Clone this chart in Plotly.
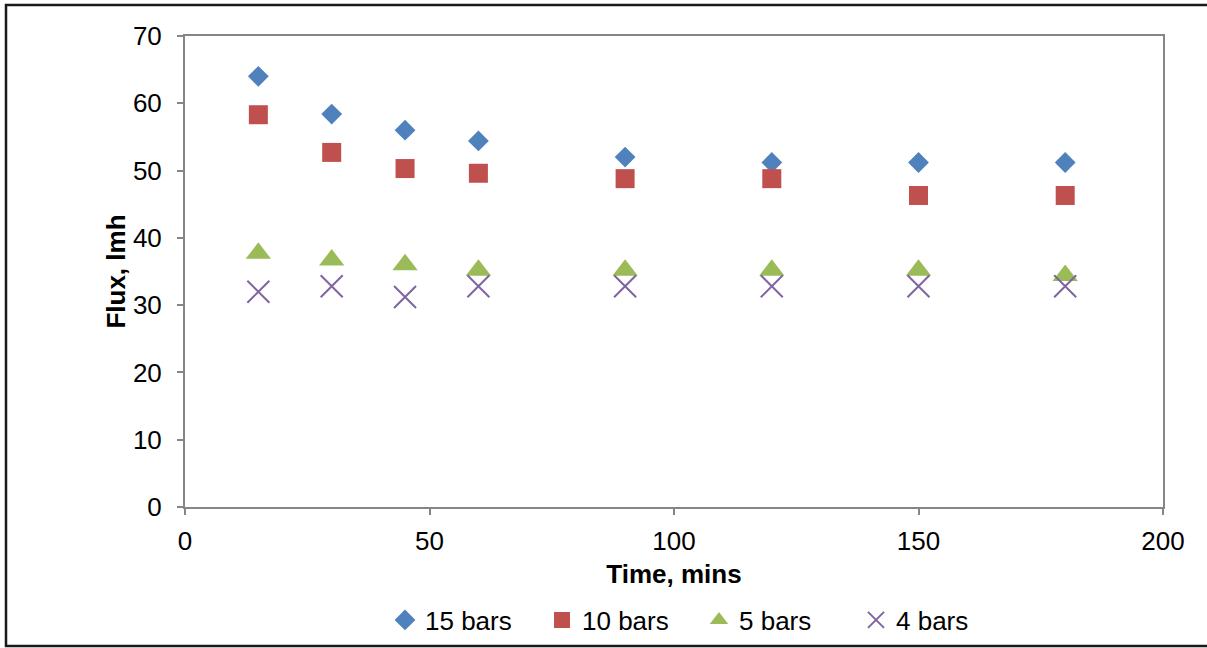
import plotly.graph_objects as go

time_min = [15, 30, 45, 60, 90, 120, 150, 180]
flux_15 = [64.0, 58.4, 56.0, 54.4, 52.0, 51.2, 51.2, 51.2]
flux_10 = [58.3, 52.7, 50.3, 49.6, 48.8, 48.8, 46.3, 46.3]
flux_5 = [37.7, 36.7, 36.0, 35.2, 35.2, 35.2, 35.2, 34.4]
flux_4 = [32.0, 32.8, 31.2, 32.8, 32.8, 32.8, 32.8, 32.8]

series = [
    ("15 bars", flux_15, dict(symbol="diamond", size=16, color="#4F81BD")),
    ("10 bars", flux_10, dict(symbol="square", size=19, color="#C0504D")),
    ("5 bars", flux_5, dict(symbol="triangle-up", size=22, color="#9BBB59")),
    ("4 bars", flux_4, dict(symbol="x-thin", size=22, color="#8064A2",
                            line=dict(color="#8064A2", width=2))),
]

fig = go.Figure()
for name, ys, mk in series:
    fig.add_trace(go.Scatter(x=time_min, y=ys, mode="markers", name=name, marker=mk))

W, H = 1207, 648
L, R, T, B = 185, 44, 36, 141
pw, ph = W - L - R, H - T - B
FONT = "Liberation Sans, Arial"

axis_common = dict(
    showgrid=False, zeroline=False, showline=True, linecolor="#868686", linewidth=2,
    mirror=True, ticks="outside", tickcolor="#868686", ticklen=6, tickwidth=1.5,
    tickfont=dict(family=FONT, size=26, color="black"), automargin=False,
)

fig.update_layout(
    width=W, height=H,
    margin=dict(l=L, r=R, t=T, b=B, autoexpand=False),
    paper_bgcolor="white", plot_bgcolor="white",
    font=dict(family=FONT, size=26, color="black"),
    xaxis=dict(range=[0, 200], dtick=50, ticklabelstandoff=4,
               title=dict(text="<b>Time, mins</b>", font=dict(size=26), standoff=10),
               **axis_common),
    yaxis=dict(range=[0, 70], dtick=10, ticklabelstandoff=10,
               title=dict(text="<b>Flux, lmh</b>", font=dict(size=26), standoff=0),
               **axis_common),
    legend=dict(orientation="h", x=0.5 + 25 / pw, xanchor="center", y=(507 - 620) / ph,
                yanchor="middle", font=dict(size=26), itemwidth=30, tracegroupgap=0,
                entrywidth=112, entrywidthmode="pixels"),
    showlegend=True,
)

# outer chart frame
fig.add_shape(type="rect", xref="paper", yref="paper",
              x0=(6 - L) / pw, x1=(W + 5 - L) / pw,
              y0=-(H - 2 - T - ph) / ph, y1=1 + (T - 5) / ph,
              line=dict(color="#1a1a1a", width=2.5), fillcolor="rgba(0,0,0,0)", layer="below")

fig.write_html("out.html")
